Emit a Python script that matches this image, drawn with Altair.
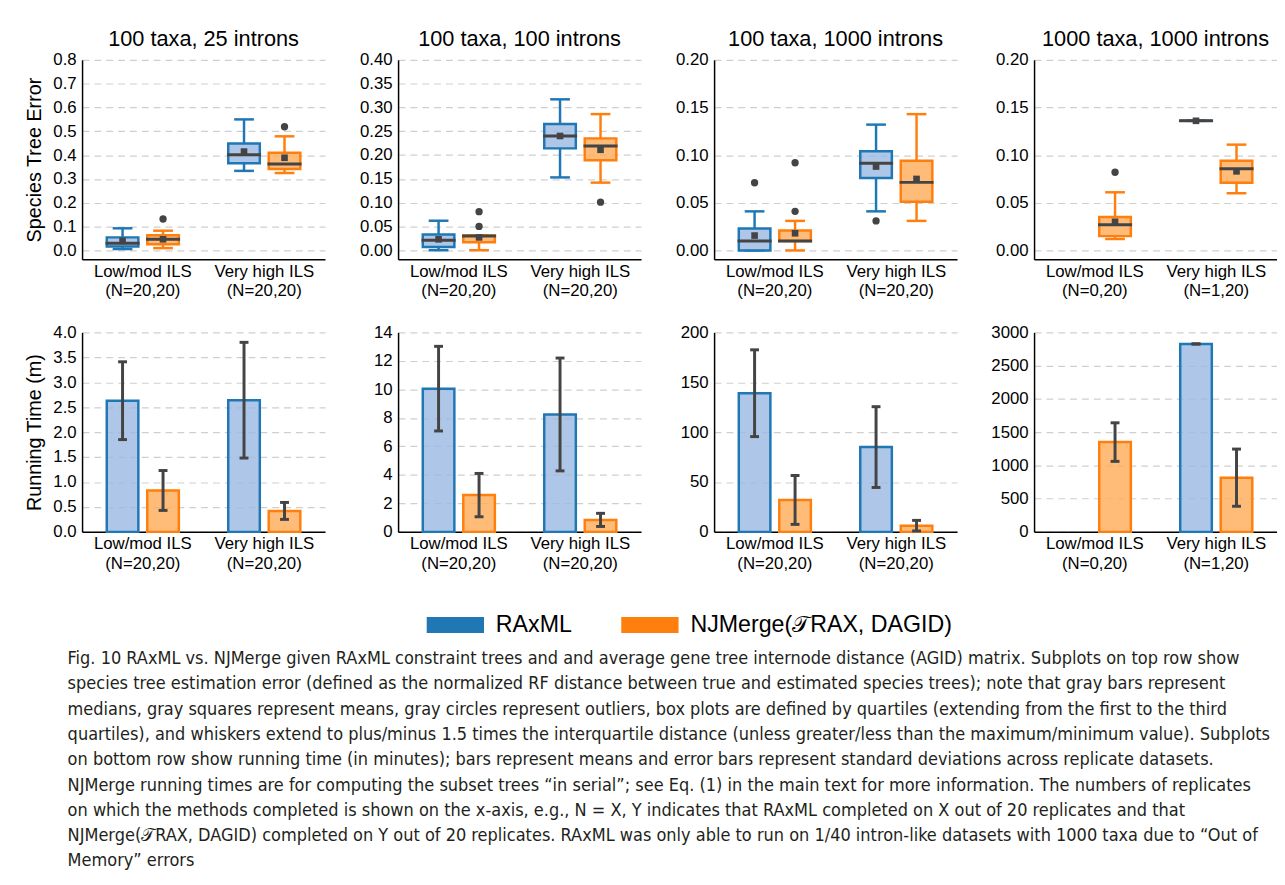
import altair as alt
import pandas as pd

FONT = "Liberation Sans"
CAPTION_FONT = "DejaVu Sans Condensed"

CATS = ["Low/mod ILS", "Very high ILS"]
METHODS = ["RAxML", "NJMerge"]
DARK = ["#1f77b4", "#ff7f0e"]
LIGHT = ["#9ab9e2", "#ffaa56"]
GRAY = "#444444"

TITLES = ["100 taxa, 25 introns", "100 taxa, 100 introns",
          "100 taxa, 1000 introns", "1000 taxa, 1000 introns"]
N_LABELS = [["(N=20,20)", "(N=20,20)"], ["(N=20,20)", "(N=20,20)"],
            ["(N=20,20)", "(N=20,20)"], ["(N=0,20)", "(N=1,20)"]]

# entry order in each panel: (Low RAxML, Low NJMerge, High RAxML, High NJMerge)
ENTRY_CAT = ["Low/mod ILS", "Low/mod ILS", "Very high ILS", "Very high ILS"]
ENTRY_METHOD = ["RAxML", "NJMerge", "RAxML", "NJMerge"]

# ---- species tree error box plots (top row) ----
WLO = [[0.006, 0.010, 0.334, 0.325],
       [0.000, 0.000, 0.153, 0.142],
       [0.000, 0.000, 0.041, 0.031],
       [None, 0.012, 0.136, 0.060]]
Q1 = [[0.017, 0.026, 0.366, 0.342],
      [0.007, 0.017, 0.214, 0.189],
      [0.000, 0.010, 0.076, 0.051],
      [None, 0.015, 0.136, 0.071]]
MED = [[0.030, 0.047, 0.402, 0.363],
       [0.021, 0.030, 0.240, 0.219],
       [0.010, 0.010, 0.0915, 0.0714],
       [None, 0.027, 0.136, 0.0856]]
Q3 = [[0.055, 0.064, 0.449, 0.410],
      [0.033, 0.031, 0.265, 0.235],
      [0.023, 0.021, 0.104, 0.094],
      [None, 0.035, 0.136, 0.094]]
WHI = [[0.093, 0.083, 0.550, 0.479],
       [0.062, 0.031, 0.317, 0.286],
       [0.041, 0.031, 0.132, 0.143],
       [None, 0.061, 0.136, 0.111]]
MEAN = [[0.040, 0.047, 0.415, 0.389],
        [0.023, 0.027, 0.240, 0.211],
        [0.0156, 0.018, 0.088, 0.075],
        [None, 0.030, 0.136, 0.083]]
OUTLIERS = [[[], [0.132], [], [0.519]],
            [[], [0.050, 0.081], [], [0.101]],
            [[0.071], [0.041, 0.092], [0.031], []],
            [[], [0.082], [], []]]

TOP_DOMAINS = [[-0.037, 0.8], [-0.019, 0.4], [-0.0093, 0.2], [-0.0093, 0.2]]
TOP_TICKS = [[0.0, 0.1, 0.2, 0.3, 0.4, 0.5, 0.6, 0.7, 0.8],
             [0.0, 0.05, 0.10, 0.15, 0.20, 0.25, 0.30, 0.35, 0.40],
             [0.0, 0.05, 0.10, 0.15, 0.20],
             [0.0, 0.05, 0.10, 0.15, 0.20]]
TOP_FMT = [".1f", ".2f", ".2f", ".2f"]

# ---- running time bars (bottom row) ----
TIME_MEAN = [[2.63, 0.83, 2.64, 0.42],
             [10.05, 2.58, 8.24, 0.84],
             [139.0, 32.0, 85.0, 6.2],
             [None, 1350.0, 2826.0, 815.0]]
TIME_SD = [[0.78, 0.40, 1.16, 0.17],
           [2.97, 1.52, 3.96, 0.46],
           [43.5, 24.5, 40.5, 5.3],
           [None, 290.0, 0.0, 430.0]]
BOT_DOMAINS = [[0, 4], [0, 14], [0, 200], [0, 3000]]
BOT_TICKS = [[0, 0.5, 1, 1.5, 2, 2.5, 3, 3.5, 4],
             [0, 2, 4, 6, 8, 10, 12, 14],
             [0, 50, 100, 150, 200],
             [0, 500, 1000, 1500, 2000, 2500, 3000]]
BOT_FMT = [".1f", "d", "d", "d"]

LEGEND_LABELS = ["RAxML", "NJMerge(𝒯RAX, DAGID)"]

CAPTION = [
    "Fig. 10  RAxML vs. NJMerge given RAxML constraint trees and and average gene tree internode distance (AGID) matrix. Subplots on top row show",
    "species tree estimation error (defined as the normalized RF distance between true and estimated species trees); note that gray bars represent",
    "medians, gray squares represent means, gray circles represent outliers, box plots are defined by quartiles (extending from the first to the third",
    "quartiles), and whiskers extend to plus/minus 1.5 times the interquartile distance (unless greater/less than the maximum/minimum value). Subplots",
    "on bottom row show running time (in minutes); bars represent means and error bars represent standard deviations across replicate datasets.",
    "NJMerge running times are for computing the subset trees \u201cin serial\u201d; see Eq. (1) in the main text for more information. The numbers of replicates",
    "on which the methods completed is shown on the x-axis, e.g., N = X, Y indicates that RAxML completed on X out of 20 replicates and that",
    "NJMerge(𝒯RAX, DAGID) completed on Y out of 20 replicates. RAxML was only able to run on 1/40 intron-like datasets with 1000 taxa due to \u201cOut of",
    "Memory\u201d errors",
]

PW, PH = 246, 202
LINE_PATH = "M-1,0L1,0"
RECT_PATH = "M-1,-0.28L1,-0.28L1,0.28L-1,0.28Z"

stroke_scale = alt.Scale(domain=METHODS, range=DARK)
fill_scale = alt.Scale(domain=METHODS, range=LIGHT)


def x_enc(i):
    expr = (f"datum.label == '{CATS[0]}' ? ['{CATS[0]}', '{N_LABELS[i][0]}'] : "
            f"['{CATS[1]}', '{N_LABELS[i][1]}']")
    return alt.X("cat:N", sort=CATS,
                 scale=alt.Scale(domain=CATS, paddingInner=0, paddingOuter=0),
                 axis=alt.Axis(labelExpr=expr, title=None, grid=False, labelAngle=0,
                               labelPadding=4, labelLineHeight=20, labelFontSize=17,
                               labelFont=FONT, labelColor="black"))


def xo_enc(align):
    return alt.XOffset("method:N",
                       scale=alt.Scale(domain=METHODS, paddingInner=0.22,
                                       paddingOuter=0.61, align=align))


def y_axis(values, fmt, title):
    common = dict(values=values, format=fmt, grid=True, labelFontSize=17, labelFont=FONT,
                  labelColor="black", labelPadding=6)
    if title:
        return alt.Axis(title=title, titleFontSize=20, titleFont=FONT, titleFontWeight="normal",
                        titleColor="black", titlePadding=8, **common)
    return alt.Axis(title=None, **common)


def top_panel(i):
    rows, orows = [], []
    for k in range(4):
        if Q1[i][k] is None:
            continue
        rows.append(dict(cat=ENTRY_CAT[k], method=ENTRY_METHOD[k], wlo=WLO[i][k], q1=Q1[i][k],
                         med=MED[i][k], q3=Q3[i][k], whi=WHI[i][k], mean=MEAN[i][k]))
        for v in OUTLIERS[i][k]:
            orows.append(dict(cat=ENTRY_CAT[k], method=ENTRY_METHOD[k], v=v))
    df = pd.DataFrame(rows)
    odf = pd.DataFrame(orows, columns=["cat", "method", "v"])
    ysc = alt.Scale(domain=TOP_DOMAINS[i], nice=False, zero=False)
    ax = y_axis(TOP_TICKS[i], TOP_FMT[i], "Species Tree Error" if i == 0 else None)
    X, XO = x_enc(i), xo_enc(0.5)

    def Y(f):
        return alt.Y(f"{f}:Q", scale=ysc, axis=ax)

    base = alt.Chart(df)
    stroke = alt.Stroke("method:N", scale=stroke_scale, legend=None)
    wl = base.mark_rule(strokeWidth=2.5).encode(x=X, xOffset=XO, y=Y("wlo"), y2="q1:Q", stroke=stroke)
    wh = base.mark_rule(strokeWidth=2.5).encode(x=X, xOffset=XO, y=Y("q3"), y2="whi:Q", stroke=stroke)
    cap_lo = base.mark_point(shape=LINE_PATH, size=400, strokeWidth=2.5, filled=False, opacity=1).encode(
        x=X, xOffset=XO, y=Y("wlo"), stroke=stroke)
    cap_hi = base.mark_point(shape=LINE_PATH, size=400, strokeWidth=2.5, filled=False, opacity=1).encode(
        x=X, xOffset=XO, y=Y("whi"), stroke=stroke)
    box = base.mark_bar(strokeWidth=2.5, fillOpacity=0.8).encode(
        x=X, xOffset=XO, y=Y("q1"), y2="q3:Q",
        fill=alt.Fill("method:N", scale=fill_scale, legend=None), stroke=stroke)
    med = base.mark_point(shape=LINE_PATH, size=1190, strokeWidth=3, filled=False,
                          color=GRAY, opacity=1).encode(x=X, xOffset=XO, y=Y("med"))
    mean = base.mark_square(size=45, color=GRAY, opacity=1).encode(x=X, xOffset=XO, y=Y("mean"))
    outl = alt.Chart(odf).mark_circle(size=55, color=GRAY, opacity=1).encode(x=X, xOffset=XO, y=Y("v"))
    return alt.layer(wl, wh, cap_lo, cap_hi, box, med, mean, outl).properties(
        width=PW, height=PH,
        title=alt.TitleParams(TITLES[i], fontSize=22, font=FONT, fontWeight="normal",
                              color="black", offset=0))


def bottom_panel(i):
    rows = []
    for k in range(4):
        if TIME_MEAN[i][k] is None:
            continue
        rows.append(dict(cat=ENTRY_CAT[k], method=ENTRY_METHOD[k],
                         label=LEGEND_LABELS[METHODS.index(ENTRY_METHOD[k])],
                         mean=TIME_MEAN[i][k], sd=TIME_SD[i][k]))
    df = pd.DataFrame(rows)
    ysc = alt.Scale(domain=BOT_DOMAINS[i], nice=False)
    ax = y_axis(BOT_TICKS[i], BOT_FMT[i], "Running Time (m)" if i == 0 else None)
    X, XO = x_enc(i), xo_enc(0.6)

    def Y(f):
        return alt.Y(f"{f}:Q", scale=ysc, axis=ax)

    base = alt.Chart(df).transform_calculate(lo="datum.mean - datum.sd", hi="datum.mean + datum.sd")
    bars = base.mark_bar(strokeWidth=2.5, fillOpacity=0.8).encode(
        x=X, xOffset=XO, y=Y("mean"),
        fill=alt.Fill("method:N", scale=fill_scale, legend=None),
        stroke=alt.Stroke("method:N", scale=stroke_scale, legend=None))
    err = base.mark_rule(strokeWidth=3, color=GRAY).encode(x=X, xOffset=XO, y=Y("lo"), y2="hi:Q")
    cap_lo = base.mark_point(shape=LINE_PATH, size=81, strokeWidth=3, filled=False, color=GRAY,
                             opacity=1).encode(x=X, xOffset=XO, y=Y("lo"))
    cap_hi = base.mark_point(shape=LINE_PATH, size=81, strokeWidth=3, filled=False, color=GRAY,
                             opacity=1).encode(x=X, xOffset=XO, y=Y("hi"))
    layers = [bars, err, cap_lo, cap_hi]
    if i == 0:
        legend_carrier = base.mark_square(size=0, opacity=1).encode(
            x=X, xOffset=XO, y=Y("mean"),
            color=alt.Color("label:N", scale=alt.Scale(domain=LEGEND_LABELS, range=DARK),
                            legend=alt.Legend(
                                title=None, orient="none", legendX=349, legendY=543,
                                direction="horizontal", symbolType=RECT_PATH, symbolSize=3364,
                                symbolStrokeWidth=0, symbolOpacity=1, labelFontSize=23.5,
                                labelFont=FONT, labelColor="black", labelOffset=12,
                                columnPadding=49, labelLimit=500, padding=0)))
        layers.append(legend_carrier)
    return alt.layer(*layers).properties(width=PW, height=PH)


panels = [top_panel(i) for i in range(4)] + [bottom_panel(i) for i in range(4)]

chart = alt.concat(*panels, columns=4, spacing={"row": 25, "column": 34}).properties(
    padding={"left": 17, "top": 15, "right": 0, "bottom": 0},
    title=alt.TitleParams(CAPTION, orient="bottom", anchor="start", fontSize=18.2,
                          font=CAPTION_FONT, fontWeight="normal", lineHeight=25.6,
                          color="#231f20", dx=43, offset=14),
).configure(font=FONT).configure_view(stroke=None).configure_axis(
    domainColor="black", domainWidth=1.5, ticks=False,
    gridColor="#cfcfcf", gridDash=[7, 5], gridWidth=1.2,
)

chart.save("out.html", embed_options={"renderer": "svg", "actions": False})
